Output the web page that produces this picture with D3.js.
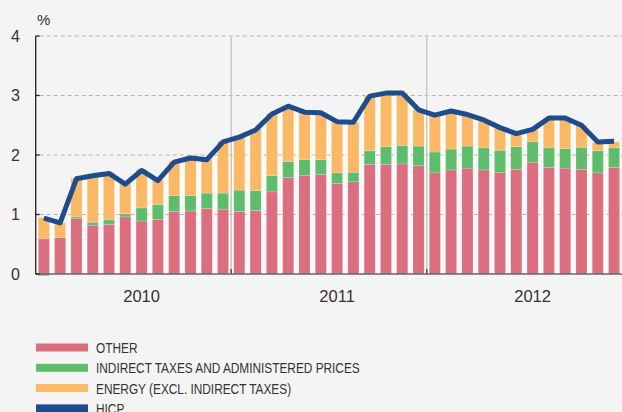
<!DOCTYPE html>
<html>
<head>
<meta charset="utf-8">
<script src="https://cdn.jsdelivr.net/npm/d3@7"></script>
<style>
  body { margin: 0; background: #f4f4f4; }
  svg { display: block; font-family: "Liberation Sans", Arial, sans-serif; }
  .legend text { font-family: "Liberation Sans Narrow", "Liberation Sans", Arial, sans-serif; font-size: 15px; fill: #333; }
</style>
</head>
<body>
<div id="chart"></div>
<script>
// monthly contributions, Jan 2010 - Dec 2012 (percentage points)
const years = ["2010", "2011", "2012"];
const months = d3.range(36);

const other = [
  0.59, 0.61, 0.93, 0.82, 0.83, 0.96, 0.89, 0.92, 1.05, 1.06, 1.10, 1.09,
  1.05, 1.07, 1.38, 1.62, 1.66, 1.67, 1.52, 1.55, 1.84, 1.84, 1.85, 1.82,
  1.70, 1.75, 1.78, 1.75, 1.71, 1.76, 1.88, 1.79, 1.78, 1.76, 1.70, 1.79
];
const indirect = [
  -0.03, 0.00, 0.03, 0.05, 0.08, 0.05, 0.22, 0.25, 0.27, 0.26, 0.26, 0.27,
  0.36, 0.33, 0.27, 0.27, 0.26, 0.25, 0.18, 0.16, 0.23, 0.30, 0.31, 0.33,
  0.35, 0.35, 0.37, 0.37, 0.37, 0.38, 0.34, 0.33, 0.33, 0.37, 0.37, 0.33
];
const energy = [
  0.36, 0.25, 0.65, 0.79, 0.79, 0.51, 0.65, 0.41, 0.58, 0.66, 0.57, 0.88,
  0.92, 1.04, 1.05, 0.93, 0.81, 0.79, 0.86, 0.84, 0.92, 0.90, 0.88, 0.62,
  0.62, 0.64, 0.53, 0.46, 0.38, 0.22, 0.21, 0.50, 0.51, 0.37, 0.14, 0.10
];
const hicp = [
  0.94, 0.86, 1.60, 1.65, 1.69, 1.51, 1.74, 1.57, 1.88, 1.95, 1.92, 2.22,
  2.30, 2.42, 2.69, 2.82, 2.72, 2.71, 2.56, 2.55, 2.99, 3.04, 3.04, 2.76,
  2.67, 2.74, 2.68, 2.59, 2.46, 2.36, 2.43, 2.62, 2.62, 2.50, 2.22, 2.23
];
const yTicks = [0, 1, 2, 3, 4];
const legendLabels = ["OTHER", "INDIRECT TAXES AND ADMINISTERED PRICES", "ENERGY (EXCL. INDIRECT TAXES)", "HICP"];
const colors = ["#dc6e80", "#5ebd6b", "#fdb863", "#1b4d90"];

const width = 622, height = 412;
const plotLeft = 35.7, plotRight = 622.2, plotTop = 36, plotBottom = 274;

const svg = d3.select("#chart").append("svg")
  .attr("width", width)
  .attr("height", height);

svg.append("rect").attr("width", width).attr("height", height).attr("fill", "#f4f4f4");

const x = d3.scaleBand()
  .domain(months)
  .range([plotLeft, plotRight])
  .paddingInner(0.32)
  .paddingOuter(0.16);

const y = d3.scaleLinear().domain([0, 4]).range([plotBottom, plotTop]);

// stack: positives upward, negatives downward
const series = [other, indirect, energy];
const segs = [];
months.forEach(m => {
  let pos = 0, neg = 0;
  series.forEach((s, k) => {
    const v = s[m];
    if (v >= 0) { segs.push({ m, k, y0: pos, y1: pos + v }); pos += v; }
    else { segs.push({ m, k, y0: neg + v, y1: neg }); neg += v; }
  });
});

const step = x.step();
const slotLeft = m => x(m) - (step - x.bandwidth()) / 2;
const barTop = m => other[m] + Math.max(indirect[m], 0) + energy[m];

// white columns behind bars (gaps look white)
svg.append("g").selectAll("rect")
  .data(months)
  .enter().append("rect")
  .attr("x", d => slotLeft(d))
  .attr("width", step)
  .attr("y", d => y(barTop(d)))
  .attr("height", d => plotBottom - y(barTop(d)))
  .attr("fill", "#fbfbfb");

// gridlines
svg.append("g").selectAll("line")
  .data(yTicks.slice(1))
  .enter().append("line")
  .attr("x1", plotLeft + 4).attr("x2", width)
  .attr("y1", d => y(d)).attr("y2", d => y(d))
  .attr("stroke", "#b4b4b4")
  .attr("stroke-width", 1)
  .attr("stroke-dasharray", "4,3");

// year separators
svg.append("g").selectAll("line")
  .data([12, 24])
  .enter().append("line")
  .attr("x1", d => slotLeft(d))
  .attr("x2", d => slotLeft(d))
  .attr("y1", plotTop).attr("y2", plotBottom)
  .attr("stroke", "#c6c6c6")
  .attr("stroke-width", 1.5);

// bars
svg.append("g").selectAll("rect")
  .data(segs)
  .enter().append("rect")
  .attr("x", d => x(d.m))
  .attr("width", x.bandwidth())
  .attr("y", d => y(d.y1))
  .attr("height", d => y(d.y0) - y(d.y1))
  .attr("fill", d => colors[d.k])
  .attr("stroke", "rgba(255,255,255,0.35)")
  .attr("stroke-width", 0.5);

// axes
svg.append("line")
  .attr("x1", plotLeft).attr("x2", width)
  .attr("y1", plotBottom).attr("y2", plotBottom)
  .attr("stroke", "#666").attr("stroke-width", 1.5);

svg.append("g").selectAll("line")
  .data([12, 24])
  .enter().append("line")
  .attr("x1", d => slotLeft(d))
  .attr("x2", d => slotLeft(d))
  .attr("y1", plotBottom - 5).attr("y2", plotBottom)
  .attr("stroke", "#555").attr("stroke-width", 1.5);

svg.append("line")
  .attr("x1", plotLeft).attr("x2", plotLeft)
  .attr("y1", plotTop).attr("y2", plotBottom)
  .attr("stroke", "#222").attr("stroke-width", 1.3);

svg.append("g").selectAll("line")
  .data(yTicks)
  .enter().append("line")
  .attr("x1", plotLeft).attr("x2", plotLeft + 4)
  .attr("y1", d => y(d)).attr("y2", d => y(d))
  .attr("stroke", "#222").attr("stroke-width", 1.3);

svg.append("g").selectAll("text")
  .data(yTicks)
  .enter().append("text")
  .attr("x", 20)
  .attr("y", d => y(d))
  .attr("dy", "0.36em")
  .attr("text-anchor", "end")
  .style("font-size", "16px")
  .style("fill", "#333")
  .text(d => d);

svg.append("text")
  .attr("x", 37).attr("y", 25)
  .style("font-size", "15px")
  .style("fill", "#333")
  .text("%");

// year labels centred on the July bar
svg.append("g").selectAll("text")
  .data(years)
  .enter().append("text")
  .attr("x", (d, i) => x(i * 12 + 6) + x.bandwidth() / 2)
  .attr("y", 302)
  .attr("text-anchor", "middle")
  .style("font-size", "16.5px")
  .style("fill", "#333")
  .text(d => d);

// HICP line
const line = d3.line()
  .x((d, i) => x(i) + x.bandwidth() / 2)
  .y(d => y(d));

svg.append("path")
  .datum(hicp)
  .attr("d", line)
  .attr("fill", "none")
  .attr("stroke", colors[3])
  .attr("stroke-width", 5)
  .attr("stroke-linejoin", "round");

// legend (condensed type: squeeze horizontally)
const legend = svg.append("g").attr("class", "legend");
legendLabels.forEach((label, i) => {
  const cy = 347.5 + i * 20.3;
  legend.append("rect")
    .attr("x", 36).attr("y", cy - 4)
    .attr("width", 52).attr("height", 8)
    .attr("fill", colors[i]);
  legend.append("text")
    .attr("transform", `translate(96,${cy + 5.5}) scale(0.79,1)`)
    .text(label);
});
</script>
</body>
</html>
